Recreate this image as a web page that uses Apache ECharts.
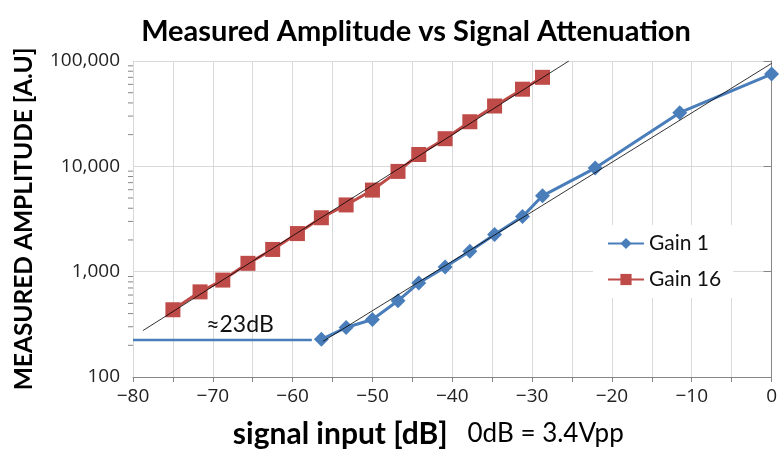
<!DOCTYPE html>
<html>
<head>
<meta charset="utf-8">
<script src="https://cdn.jsdelivr.net/npm/echarts@6/dist/echarts.min.js"></script>
<style>
  html, body { margin: 0; padding: 0; background: #fff; overflow: hidden; }
  #chart { width: 780px; height: 454px; }
</style>
</head>
<body>
<div id="chart"></div>
<script>
// Attenuator settings (dB) and measured amplitudes (A.U.)
const gain16X = [-75, -71.6, -68.75, -65.6, -62.5, -59.4, -56.4, -53.3, -50, -46.8, -44.2, -40.9, -37.8, -34.7, -31.2, -28.7];
const gain16Y = [435, 643, 832, 1200, 1625, 2300, 3250, 4300, 5950, 8950, 12950, 18300, 26500, 37400, 54000, 70000];

const gain1X = [-56.4, -53.3, -50, -46.8, -44.2, -40.9, -37.8, -34.7, -31.2, -28.7, -22.1, -11.5, 0];
const gain1Y = [228, 295, 351, 529, 781, 1105, 1562, 2256, 3333, 5248, 9620, 32300, 75200];

// Straight-line fits drawn over each series
const fit16X = [-78.75, -25.4];
const fit16Y = [276, 100000];
const fit1X = [-56.2, 0];
const fit1Y = [218, 94900];

// Noise floor marker and the gap between the two gain settings
const floorX = [-80, -66.6, -57.6];
const floorY = [225, 225, 225];
const gapLabel = '≈23dB';

// Log-axis minor tick positions
const minorTicks = [200, 300, 400, 500, 600, 700, 800, 900,
                    2000, 3000, 4000, 5000, 6000, 7000, 8000, 9000,
                    20000, 30000, 40000, 50000, 60000, 70000, 80000, 90000];

const xTickLabels = ['−80', '−70', '−60', '−50', '−40', '−30', '−20', '−10', '0'];

const zip = (xs, ys) => xs.map((x, i) => [x, ys[i]]);

const FONT = 'Lato';
const TICK_FONT = 'Open Sans';
const BLUE = '#4a7ebb';
const RED = '#be4b48';

const chart = echarts.init(document.getElementById('chart'), null, { renderer: 'canvas' });

chart.setOption({
  animation: false,
  backgroundColor: '#fff',
  title: {
    text: 'Measured Amplitude vs Signal Attenuation',
    left: 411,
    top: 12,
    textAlign: 'center',
    textStyle: { fontFamily: FONT, fontWeight: 'bold', fontSize: 29, color: '#000' }
  },
  legend: {
    data: ['Gain 1', 'Gain 16'],
    orient: 'vertical',
    left: 593,
    top: 225,
    backgroundColor: '#fff',
    padding: [8, 12, 8, 14],
    itemWidth: 36,
    itemHeight: 14,
    itemGap: 15,
    textStyle: { fontFamily: FONT, fontSize: 21, color: '#111' }
  },
  grid: { left: 133, right: 7, top: 61, bottom: 74, containLabel: false },
  xAxis: {
    type: 'value',
    min: -80,
    max: 0,
    interval: 5,
    name: '{b|signal input [dB]}{r|   0dB = 3.4Vpp}',
    nameLocation: 'middle',
    nameGap: 42,
    nameTextStyle: {
      padding: [0, 48, 0, 0],
      rich: {
        b: { fontFamily: FONT, fontWeight: 'bold', fontSize: 30, color: '#000' },
        r: { fontFamily: FONT, fontSize: 26, color: '#000' }
      }
    },
    axisLine: { show: true, lineStyle: { color: '#868686', width: 1 } },
    axisTick: { show: true, length: 5, lineStyle: { color: '#868686' } },
    axisLabel: {
      fontFamily: TICK_FONT, fontSize: 19, color: '#222', margin: 10,
      formatter: v => (v % 10 === 0 ? xTickLabels[(v + 80) / 10] : '')
    },
    splitLine: { show: true, lineStyle: { color: '#d9d9d9', width: 1 } }
  },
  yAxis: {
    type: 'log',
    logBase: 10,
    min: 100,
    max: 100000,
    name: 'MEASURED AMPLITUDE [A.U]',
    nameLocation: 'middle',
    nameRotate: 90,
    nameGap: 96,
    nameTextStyle: { fontFamily: FONT, fontWeight: 'bold', fontSize: 24.5, color: '#000' },
    axisLine: { show: true, lineStyle: { color: '#868686', width: 1 } },
    axisTick: { show: true, length: 8, lineStyle: { color: '#868686' } },
    axisLabel: {
      fontFamily: TICK_FONT, fontSize: 19, color: '#222', margin: 13,
      formatter: v => Math.round(v).toLocaleString('en-US')
    },
    splitLine: { show: true, lineStyle: { color: '#d9d9d9', width: 1 } }
  },
  series: [
    {
      name: 'minor ticks',
      type: 'custom',
      silent: true,
      clip: false,
      data: minorTicks.map(v => [-80, v]),
      encode: { x: 0, y: 1 },
      renderItem: (params, api) => {
        const p = api.coord([api.value(0), api.value(1)]);
        return {
          type: 'line',
          shape: { x1: p[0] - 5, y1: p[1], x2: p[0], y2: p[1] },
          style: { stroke: '#868686', lineWidth: 1 }
        };
      },
      z: 1
    },
    {
      name: 'floor',
      type: 'line',
      data: zip(floorX, floorY).map((p, i) => i === 1
        ? { value: p, label: { show: true, formatter: gapLabel, position: 'top', distance: 4,
            fontFamily: FONT, fontSize: 23, color: '#111' } }
        : p),
      symbol: 'circle',
      symbolSize: 0,
      showSymbol: true,
      lineStyle: { color: BLUE, width: 2.5 },
      itemStyle: { color: BLUE },
      silent: true,
      z: 2
    },
    {
      name: 'Gain 1',
      type: 'line',
      data: zip(gain1X, gain1Y),
      symbol: 'diamond',
      symbolSize: 15,
      itemStyle: { color: BLUE },
      lineStyle: { color: BLUE, width: 3 },
      z: 3
    },
    {
      name: 'Gain 16',
      type: 'line',
      data: zip(gain16X, gain16Y),
      symbol: 'rect',
      symbolSize: 15,
      itemStyle: { color: RED },
      lineStyle: { color: RED, width: 3 },
      z: 3
    },
    {
      name: 'fit 16',
      type: 'line',
      data: zip(fit16X, fit16Y),
      symbol: 'none',
      lineStyle: { color: '#000', width: 0.8 },
      silent: true,
      z: 4
    },
    {
      name: 'fit 1',
      type: 'line',
      data: zip(fit1X, fit1Y),
      symbol: 'none',
      lineStyle: { color: '#000', width: 0.8 },
      silent: true,
      z: 4
    }
  ]
});
</script>
</body>
</html>
